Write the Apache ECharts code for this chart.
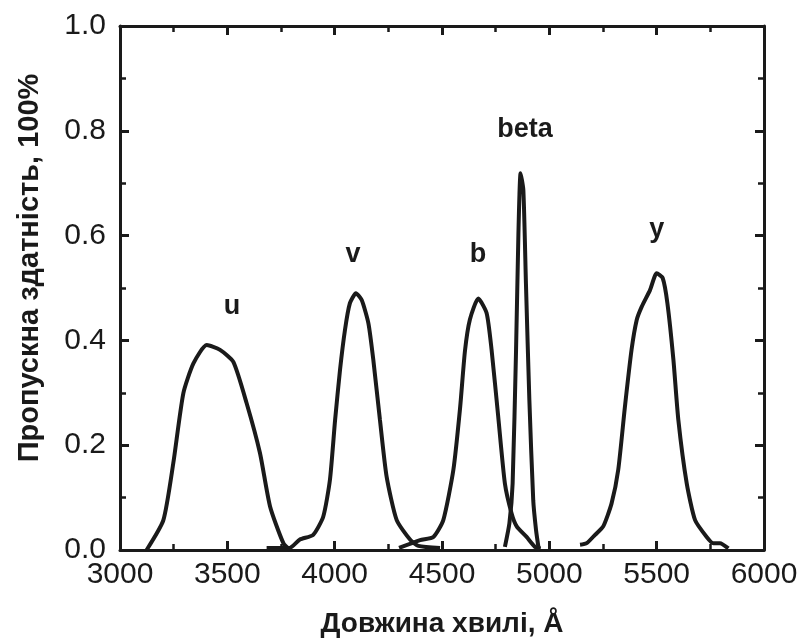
<!DOCTYPE html>
<html>
<head>
<meta charset="utf-8">
<script src="https://cdn.jsdelivr.net/npm/echarts@6/dist/echarts.min.js"></script>
<style>
  html, body { margin: 0; padding: 0; background: #fff; }
  #chart { width: 801px; height: 643px; }
</style>
</head>
<body>
<div id="chart"></div>
<script>
// криві пропускання фільтрів uvby-beta
var uX = [3124, 3202, 3248, 3295, 3342, 3404, 3466, 3528, 3590, 3652, 3699, 3761, 3792];
var uY = [0.0, 0.057, 0.165, 0.299, 0.356, 0.391, 0.382, 0.359, 0.28, 0.185, 0.083, 0.013, 0.0];

var vX = [3683, 3790, 3838, 3900, 3947, 3978, 4002, 4025, 4048, 4071, 4099, 4126, 4157, 4180, 4211, 4242, 4289, 4351, 4390, 4491];
var vY = [0.004, 0.004, 0.02, 0.029, 0.064, 0.134, 0.248, 0.344, 0.42, 0.471, 0.49, 0.477, 0.433, 0.363, 0.248, 0.14, 0.057, 0.02, 0.008, 0.004];

var bX = [4300, 4398, 4460, 4506, 4553, 4584, 4607, 4630, 4669, 4708, 4731, 4762, 4793, 4824, 4848, 4894, 4933, 4960];
var bY = [0.004, 0.019, 0.025, 0.057, 0.153, 0.27, 0.38, 0.44, 0.48, 0.452, 0.382, 0.254, 0.127, 0.07, 0.045, 0.025, 0.006, 0.003];

var betaX = [4793, 4814, 4829, 4845, 4856, 4866, 4879, 4891, 4907, 4925, 4938, 4949];
var betaY = [0.006, 0.051, 0.127, 0.382, 0.604, 0.719, 0.687, 0.509, 0.286, 0.095, 0.038, 0.006];

var yX = [5143, 5174, 5213, 5251, 5290, 5321, 5352, 5383, 5407, 5430, 5469, 5500, 5528, 5550, 5578, 5601, 5640, 5679, 5733, 5764, 5795, 5834];
var yY = [0.01, 0.013, 0.029, 0.045, 0.089, 0.153, 0.273, 0.382, 0.439, 0.464, 0.496, 0.528, 0.519, 0.471, 0.363, 0.248, 0.127, 0.057, 0.025, 0.013, 0.013, 0.003];

// підписи фільтрів
var labelNames = ['u', 'v', 'b', 'beta', 'y'];
var labelX = [3522, 4085, 4668, 4887, 5501];
var labelY = [0.465, 0.563, 0.563, 0.802, 0.611];

var xTicks = [3000, 3500, 4000, 4500, 5000, 5500, 6000];
var yTicks = [0.0, 0.2, 0.4, 0.6, 0.8, 1.0];

function pairs(xs, ys) {
  return xs.map(function (x, i) { return [x, ys[i]]; });
}

(function () {
  var myChart = echarts.init(document.getElementById('chart'));
  var ink = '#1a1a1a';
  var lineStyle = { color: ink, width: 4 };

  var axisBase = {
    type: 'value',
    axisLine: { show: true, onZero: false, lineStyle: { color: ink, width: 3 } },
    axisTick: { show: true, inside: true, length: 9, lineStyle: { color: ink, width: 3 } },
    minorTick: { show: true, splitNumber: 2, length: 6, lineStyle: { color: ink, width: 2.5 } },
    splitLine: { show: false }
  };

  function curve(name, xs, ys) {
    return {
      name: name,
      type: 'line',
      data: pairs(xs, ys),
      showSymbol: false,
      smooth: 0.2,
      lineStyle: lineStyle,
      z: 3
    };
  }

  var option = {
    animation: false,
    backgroundColor: '#fff',
    textStyle: { fontFamily: 'Liberation Sans, Arial, sans-serif' },
    grid: { left: 120, right: 37, top: 26, bottom: 93 },
    xAxis: [
      Object.assign({}, axisBase, {
        position: 'bottom',
        min: 3000, max: 6000, interval: 500,
        name: 'Довжина хвилі, Å',
        nameLocation: 'middle',
        nameGap: 60,
        nameTextStyle: { color: ink, fontSize: 28, fontWeight: 'bold' },
        axisLabel: { color: ink, fontSize: 30, margin: 10,
          formatter: function (v) { return xTicks.indexOf(v) >= 0 ? String(v) : ''; } }
      }),
      Object.assign({}, axisBase, {
        position: 'top',
        min: 3000, max: 6000, interval: 500,
        axisLabel: { show: false }
      })
    ],
    yAxis: [
      Object.assign({}, axisBase, {
        position: 'left',
        min: 0, max: 1.0, interval: 0.2,
        name: 'Пропускна здатність, 100%',
        nameLocation: 'middle',
        nameGap: 76,
        nameTextStyle: { color: ink, fontSize: 29, fontWeight: 'bold', padding: [0, 0, 0, 40] },
        axisLabel: { color: ink, fontSize: 30, margin: 14,
          formatter: function (v) { return v.toFixed(1); } }
      }),
      Object.assign({}, axisBase, {
        position: 'right',
        min: 0, max: 1.0, interval: 0.2,
        axisLabel: { show: false }
      })
    ],
    series: [
      curve('u', uX, uY),
      curve('v', vX, vY),
      curve('b', bX, bY),
      curve('beta', betaX, betaY),
      curve('y', yX, yY),
      {
        type: 'scatter',
        symbolSize: 0,
        itemStyle: { opacity: 1 },
        data: labelNames.map(function (n, i) { return { name: n, value: [labelX[i], labelY[i]] }; }),
        label: {
          show: true,
          position: 'inside',
          formatter: '{b}',
          color: ink,
          fontSize: 27,
          fontWeight: 'bold'
        },
        z: 4
      }
    ]
  };

  myChart.setOption(option);
})();
</script>
</body>
</html>
